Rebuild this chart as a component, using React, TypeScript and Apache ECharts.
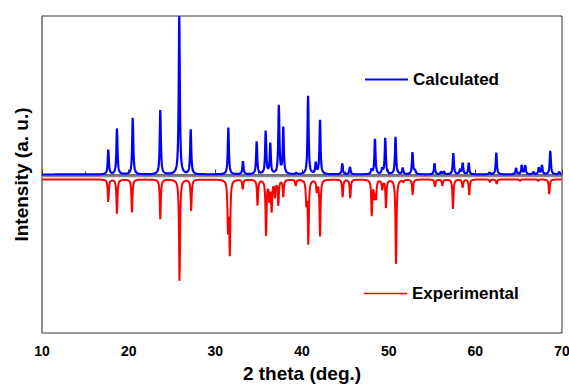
import React, { useEffect, useRef } from "react";
import * as echarts from "echarts";

// X-axis ticks
const xTicks = [10, 20, 30, 40, 50, 60, 70];

// Calculated pattern: peak positions (2θ, deg) and relative heights (max = 100)
const calcPos = [
  17.65, 18.65, 20.47, 23.65, 25.84, 27.16, 31.5, 33.19, 34.77, 35.81, 36.34, 37.33,
  37.84, 39.33, 40.7, 41.59, 42.08, 44.65, 45.54, 48.02, 48.42, 49.25, 49.61, 50.79,
  51.62, 52.75, 53.04, 55.29, 56.04, 56.38, 57.46, 58.23, 58.54, 59.24, 61.66, 62.42,
  64.71, 65.36, 65.76, 66.69, 67.32, 67.69, 68.65, 69.68,
];
const calcHeight = [
  15.8, 29.4, 36.3, 41.2, 99.8, 28.1, 29.5, 8.4, 21.0, 27.5, 19.1, 43.9,
  29.2, 0.8, 49.4, 7.0, 34.1, 7.0, 5.0, 3.2, 22.2, 3.5, 23.2, 24.0,
  4.3, 14.1, 2.7, 7.1, 1.8, 1.9, 13.4, 3.0, 7.1, 7.3, 1.3, 13.7,
  4.1, 6.2, 6.0, 1.6, 4.5, 5.9, 15.1, 1.8,
];

// Experimental pattern: peak positions (2θ, deg) and depths below its baseline
const expPos = [
  17.65, 18.65, 20.38, 23.65, 25.87, 27.21, 31.46, 31.67, 33.16, 34.87, 35.85, 36.23,
  36.5, 36.88, 37.27, 37.84, 39.27, 40.5, 40.73, 41.7, 42.08, 44.69, 45.57, 48.05,
  48.36, 48.54, 49.26, 49.69, 50.85, 51.69, 52.77, 55.34, 56.19, 57.42, 58.54, 59.3,
  61.69, 62.46, 65.15, 67.26, 68.53,
];
const expDepth = [
  14.4, 21.9, 20.8, 25.5, 65.2, 20.0, 30.0, 46.0, 6.0, 16.5, 35.6, 12.3,
  19.2, 10.4, 16.1, 10.6, 3.9, 14.0, 40.5, 7.1, 35.6, 11.2, 11.9, 22.8,
  10.5, 11.0, 6.0, 18.0, 54.2, 1.6, 9.8, 4.9, 3.9, 18.6, 5.5, 9.8,
  1.8, 3.0, 1.0, 1.0, 9.5,
];

const calcBaseline = 0;
const expBaseline = -3.1;
const zeroLine = -0.9;

function profile(pos: number[], amp: number[], base: number, sign: number, hw: number) {
  const out: [number, number][] = [];
  for (let i = 0; i <= 3000; i++) {
    const x = 10 + i * 0.02;
    let y = 0;
    for (let k = 0; k < pos.length; k++) {
      const d = (x - pos[k]) / hw;
      y += amp[k] / (1 + d * d);
    }
    out.push([Math.round(x * 100) / 100, base + sign * y]);
  }
  return out;
}

export default function App() {
  const ref = useRef<HTMLDivElement>(null);
  useEffect(() => {
    if (!ref.current) return;
    const chart = echarts.init(ref.current, null, { renderer: "svg" });
    const font = "Arial, 'Liberation Sans', sans-serif";
    chart.setOption({
      animation: false,
      backgroundColor: "#ffffff",
      grid: {
        left: 42,
        right: 7,
        top: 16,
        bottom: 52,
        show: true,
        borderColor: "#333333",
        borderWidth: 1,
        containLabel: false,
        outerBoundsMode: "none",
      },
      legend: [
        {
          data: [{ name: "Calculated", icon: "rect", itemStyle: { color: "#0000ff" } }],
          left: 365,
          top: 71,
          padding: 0,
          itemWidth: 43,
          itemHeight: 2,
          textStyle: { fontFamily: font, fontSize: 17, fontWeight: "bold", color: "#000" },
        },
        {
          data: [{ name: "Experimental", icon: "rect", itemStyle: { color: "#ff0000" } }],
          left: 364,
          top: 285,
          padding: 0,
          itemWidth: 43,
          itemHeight: 1.4,
          textStyle: { fontFamily: font, fontSize: 17, fontWeight: "bold", color: "#000" },
        },
      ],
      xAxis: {
        type: "value",
        min: xTicks[0],
        max: xTicks[xTicks.length - 1],
        interval: 10,
        name: "2 theta (deg.)",
        nameLocation: "middle",
        nameGap: 31,
        nameTextStyle: { fontFamily: font, fontSize: 19, fontWeight: "bold", color: "#000" },
        axisLine: { lineStyle: { color: "#444", width: 1.5 } },
        axisTick: { inside: true, length: 5, lineStyle: { color: "#444" } },
        minorTick: { show: true, splitNumber: 2, length: 3, lineStyle: { color: "#444" } },
        axisLabel: {
          fontFamily: font,
          fontSize: 14,
          fontWeight: "bold",
          color: "#000",
          margin: 11,
          hideOverlap: false,
        },
        splitLine: { show: false },
      },
      yAxis: {
        type: "value",
        min: -100,
        max: 100,
        name: "Intensity (a. u.)",
        nameLocation: "middle",
        nameGap: 11,
        nameTextStyle: { fontFamily: font, fontSize: 19, fontWeight: "bold", color: "#000" },
        axisLine: { show: true, lineStyle: { color: "#888", width: 1.5 } },
        axisTick: { show: false },
        axisLabel: { show: false },
        splitLine: { show: false },
      },
      series: [
        {
          name: "Experimental",
          type: "line",
          data: profile(expPos, expDepth, expBaseline, -1, 0.07),
          showSymbol: false,
          symbol: "none",
          color: "#ff0000",
          lineStyle: { color: "#ff0000", width: 2 },
          silent: true,
        },
        {
          name: "Calculated",
          type: "line",
          data: profile(calcPos, calcHeight, calcBaseline, 1, 0.075),
          showSymbol: false,
          symbol: "none",
          color: "#0000ff",
          lineStyle: { color: "#0000ff", width: 2.2 },
          silent: true,
          markLine: {
            silent: true,
            symbol: "none",
            label: { show: false },
            lineStyle: { color: "#888", width: 1.3, type: "solid" },
            data: [{ yAxis: zeroLine }],
          },
        },
      ],
    });
    return () => chart.dispose();
  }, []);
  return (
    <div
      ref={ref}
      style={{ position: "fixed", left: 0, top: 0, width: 569, height: 385 }}
    />
  );
}
